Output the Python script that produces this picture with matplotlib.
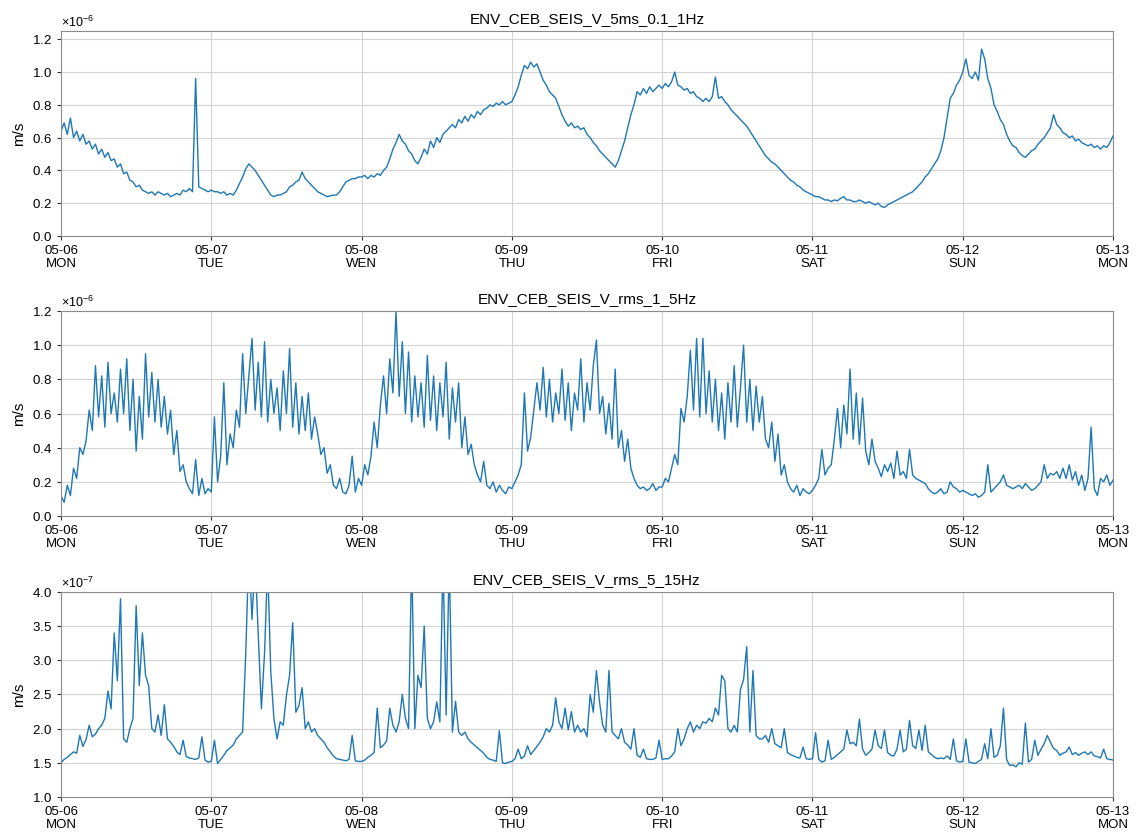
import numpy as np
import pandas as pd
import matplotlib
matplotlib.use("Agg")
import matplotlib.pyplot as plt
from matplotlib.ticker import ScalarFormatter

plt.rcParams['font.family'] = ['Liberation Sans', 'DejaVu Sans']
plt.rcParams['mathtext.fontset'] = 'custom'
plt.rcParams['mathtext.rm'] = 'Liberation Sans'
plt.rcParams['mathtext.it'] = 'Liberation Sans:italic'

# 30-minute samples, 2019-05-06 00:00 .. 2019-05-13 00:00
t = pd.date_range('2019-05-06', '2019-05-13', freq='30min')
day_ticks = pd.date_range('2019-05-06', '2019-05-13', freq='D')
day_names = ['MON', 'TUE', 'WEN', 'THU', 'FRI', 'SAT', 'SUN', 'MON']

# ENV_CEB_SEIS_V_5ms_0.1_1Hz  [1e-6 m/s]
vel_01_1hz = [
    # 05-06
    0.64, 0.69, 0.62, 0.72, 0.60, 0.64, 0.58, 0.62, 0.56, 0.58, 0.53, 0.56,
    0.50, 0.53, 0.48, 0.51, 0.46, 0.47, 0.42, 0.44, 0.38, 0.39, 0.34, 0.33,
    0.30, 0.31, 0.28, 0.27, 0.26, 0.27, 0.25, 0.27, 0.26, 0.25, 0.26, 0.24,
    0.25, 0.26, 0.25, 0.28, 0.27, 0.29, 0.27, 0.96, 0.30, 0.29, 0.28, 0.27,
    # 05-07
    0.28, 0.27, 0.27, 0.26, 0.27, 0.25, 0.26, 0.25, 0.28, 0.32, 0.36, 0.41,
    0.44, 0.42, 0.40, 0.37, 0.34, 0.31, 0.28, 0.25, 0.24, 0.25, 0.25, 0.26,
    0.27, 0.30, 0.31, 0.33, 0.34, 0.39, 0.35, 0.33, 0.31, 0.29, 0.27, 0.26,
    0.25, 0.24, 0.245, 0.25, 0.25, 0.27, 0.30, 0.33, 0.34, 0.35, 0.35, 0.36,
    # 05-08
    0.36, 0.37, 0.35, 0.37, 0.36, 0.38, 0.37, 0.40, 0.42, 0.47, 0.53, 0.57,
    0.62, 0.58, 0.56, 0.52, 0.50, 0.46, 0.44, 0.48, 0.53, 0.50, 0.58, 0.54,
    0.60, 0.57, 0.62, 0.64, 0.66, 0.68, 0.66, 0.71, 0.69, 0.73, 0.70, 0.74,
    0.72, 0.76, 0.74, 0.77, 0.78, 0.80, 0.79, 0.81, 0.80, 0.82, 0.80, 0.81,
    # 05-09
    0.82, 0.86, 0.91, 0.98, 1.04, 1.02, 1.06, 1.03, 1.05, 1.00, 0.95, 0.92,
    0.88, 0.86, 0.84, 0.79, 0.74, 0.70, 0.67, 0.69, 0.66, 0.67, 0.65, 0.66,
    0.62, 0.60, 0.57, 0.55, 0.52, 0.50, 0.48, 0.46, 0.44, 0.42, 0.46, 0.52,
    0.58, 0.66, 0.74, 0.80, 0.88, 0.86, 0.90, 0.87, 0.91, 0.88, 0.90, 0.92,
    # 05-10
    0.90, 0.93, 0.91, 0.94, 1.00, 0.92, 0.91, 0.89, 0.90, 0.87, 0.88, 0.85,
    0.84, 0.82, 0.84, 0.82, 0.85, 0.97, 0.84, 0.85, 0.82, 0.80, 0.77, 0.75,
    0.73, 0.71, 0.69, 0.67, 0.64, 0.61, 0.58, 0.55, 0.52, 0.49, 0.47, 0.45,
    0.44, 0.42, 0.40, 0.38, 0.36, 0.34, 0.33, 0.31, 0.30, 0.28, 0.27, 0.26,
    # 05-11
    0.25, 0.24, 0.24, 0.23, 0.22, 0.22, 0.21, 0.22, 0.215, 0.23, 0.24, 0.22,
    0.22, 0.21, 0.21, 0.22, 0.21, 0.20, 0.21, 0.20, 0.19, 0.20, 0.18, 0.175,
    0.19, 0.20, 0.21, 0.22, 0.23, 0.24, 0.25, 0.26, 0.27, 0.29, 0.31, 0.33,
    0.36, 0.38, 0.41, 0.44, 0.47, 0.52, 0.60, 0.72, 0.84, 0.87, 0.92, 0.95,
    # 05-12
    1.00, 1.08, 0.98, 0.96, 1.00, 0.95, 1.14, 1.08, 0.96, 0.90, 0.80, 0.76,
    0.71, 0.68, 0.62, 0.58, 0.55, 0.54, 0.51, 0.49, 0.48, 0.50, 0.52, 0.53,
    0.56, 0.58, 0.60, 0.63, 0.66, 0.74, 0.68, 0.66, 0.63, 0.62, 0.60, 0.61,
    0.58, 0.59, 0.57, 0.56, 0.55, 0.56, 0.54, 0.55, 0.53, 0.55, 0.54, 0.57,
    # 05-13
    0.61,
]

# ENV_CEB_SEIS_V_rms_1_5Hz  [1e-6 m/s]
vel_1_5hz = [
    # 05-06
    0.12, 0.08, 0.18, 0.12, 0.28, 0.22, 0.40, 0.36, 0.44, 0.62, 0.50, 0.88,
    0.58, 0.82, 0.52, 0.90, 0.60, 0.72, 0.55, 0.86, 0.60, 0.92, 0.50, 0.80,
    0.38, 0.70, 0.45, 0.95, 0.58, 0.84, 0.55, 0.80, 0.52, 0.70, 0.48, 0.62,
    0.36, 0.50, 0.26, 0.30, 0.20, 0.16, 0.13, 0.33, 0.12, 0.22, 0.13, 0.16,
    # 05-07
    0.14, 0.58, 0.20, 0.35, 0.78, 0.30, 0.48, 0.40, 0.62, 0.52, 0.95, 0.60,
    0.82, 1.04, 0.62, 0.90, 0.58, 1.02, 0.55, 0.80, 0.60, 0.75, 0.50, 0.85,
    0.60, 0.98, 0.52, 0.78, 0.48, 0.70, 0.50, 0.72, 0.45, 0.58, 0.48, 0.36,
    0.40, 0.25, 0.30, 0.18, 0.16, 0.22, 0.14, 0.13, 0.18, 0.35, 0.14, 0.22,
    # 05-08
    0.18, 0.30, 0.24, 0.35, 0.55, 0.40, 0.65, 0.82, 0.60, 0.92, 0.72, 1.20,
    0.70, 1.02, 0.60, 0.96, 0.55, 0.82, 0.58, 0.78, 0.52, 0.94, 0.56, 0.82,
    0.50, 0.78, 0.58, 0.90, 0.45, 0.75, 0.55, 0.78, 0.40, 0.58, 0.36, 0.42,
    0.30, 0.24, 0.20, 0.32, 0.18, 0.16, 0.20, 0.14, 0.18, 0.15, 0.13, 0.17,
    # 05-09
    0.16, 0.20, 0.24, 0.30, 0.72, 0.38, 0.46, 0.62, 0.78, 0.62, 0.87, 0.58,
    0.80, 0.55, 0.72, 0.60, 0.86, 0.56, 0.78, 0.50, 0.72, 0.62, 0.92, 0.55,
    0.78, 0.62, 0.88, 1.03, 0.60, 0.70, 0.48, 0.66, 0.45, 0.86, 0.40, 0.50,
    0.32, 0.45, 0.28, 0.22, 0.18, 0.16, 0.17, 0.15, 0.16, 0.19, 0.15, 0.17,
    # 05-10
    0.17, 0.22, 0.20, 0.28, 0.36, 0.30, 0.63, 0.55, 0.70, 0.97, 0.62, 1.04,
    0.58, 1.04, 0.60, 0.85, 0.55, 0.80, 0.50, 0.72, 0.45, 0.78, 0.55, 0.88,
    0.52, 0.75, 1.00, 0.55, 0.80, 0.50, 0.76, 0.55, 0.70, 0.45, 0.40, 0.55,
    0.32, 0.48, 0.24, 0.30, 0.20, 0.16, 0.14, 0.18, 0.12, 0.16, 0.14, 0.13,
    # 05-11
    0.15, 0.18, 0.22, 0.39, 0.24, 0.28, 0.30, 0.45, 0.63, 0.40, 0.65, 0.48,
    0.86, 0.45, 0.72, 0.42, 0.69, 0.38, 0.30, 0.45, 0.32, 0.28, 0.23, 0.30,
    0.26, 0.31, 0.22, 0.38, 0.24, 0.26, 0.22, 0.39, 0.24, 0.22, 0.21, 0.20,
    0.19, 0.16, 0.14, 0.13, 0.14, 0.16, 0.13, 0.14, 0.20, 0.17, 0.16, 0.14,
    # 05-12
    0.15, 0.14, 0.13, 0.12, 0.13, 0.11, 0.12, 0.14, 0.30, 0.14, 0.16, 0.18,
    0.20, 0.24, 0.18, 0.17, 0.16, 0.17, 0.18, 0.16, 0.19, 0.17, 0.15, 0.16,
    0.18, 0.20, 0.30, 0.22, 0.25, 0.24, 0.26, 0.22, 0.28, 0.22, 0.30, 0.21,
    0.26, 0.18, 0.24, 0.15, 0.22, 0.52, 0.16, 0.12, 0.22, 0.20, 0.24, 0.18,
    # 05-13
    0.21,
]

# ENV_CEB_SEIS_V_rms_5_15Hz  [1e-7 m/s]
vel_5_15hz = [
    # 05-06
    1.50, 1.55, 1.58, 1.62, 1.66, 1.64, 1.90, 1.74, 1.84, 2.05, 1.88, 1.92,
    2.00, 2.05, 2.15, 2.55, 2.29, 3.40, 2.70, 3.90, 1.85, 1.80, 2.00, 2.15,
    3.80, 2.63, 3.40, 2.78, 2.63, 2.00, 1.95, 2.20, 1.90, 2.35, 1.85, 1.80,
    1.74, 1.66, 1.62, 1.83, 1.59, 1.57, 1.56, 1.55, 1.57, 1.88, 1.54, 1.51,
    # 05-07
    1.52, 1.83, 1.49, 1.55, 1.61, 1.68, 1.72, 1.76, 1.85, 1.90, 1.95, 3.10,
    4.60, 3.60, 4.50, 3.37, 2.29, 3.10, 4.40, 2.83, 2.15, 1.85, 2.10, 2.05,
    2.49, 2.78, 3.55, 2.24, 2.34, 2.60, 2.00, 2.10, 1.95, 2.00, 1.90, 1.85,
    1.80, 1.72, 1.66, 1.60, 1.56, 1.55, 1.54, 1.53, 1.55, 1.90, 1.53, 1.52,
    # 05-08
    1.52, 1.54, 1.58, 1.61, 1.65, 2.30, 1.72, 1.76, 1.82, 2.30, 2.05, 1.95,
    2.10, 2.50, 2.15, 2.00, 4.50, 2.00, 2.78, 2.60, 3.50, 2.15, 2.00, 2.10,
    2.39, 2.10, 4.50, 2.20, 4.50, 1.95, 2.40, 1.95, 1.90, 1.95, 1.85, 1.80,
    1.76, 1.72, 1.68, 1.64, 1.58, 1.55, 1.54, 1.52, 1.97, 1.50, 1.49, 1.51,
    # 05-09
    1.52, 1.56, 1.70, 1.56, 1.60, 1.75, 1.62, 1.68, 1.74, 1.80, 1.88, 2.00,
    1.95, 2.05, 2.45, 2.10, 2.00, 2.30, 1.98, 2.25, 1.95, 2.05, 1.95, 2.00,
    1.88, 2.50, 2.24, 2.85, 2.39, 2.05, 1.95, 2.85, 1.95, 1.90, 1.85, 2.00,
    1.80, 1.76, 1.70, 2.00, 1.61, 1.58, 1.70, 1.56, 1.55, 1.55, 1.57, 1.83,
    # 05-10
    1.55, 1.56, 1.56, 1.60, 1.66, 2.00, 1.75, 1.85, 2.00, 2.10, 1.95, 2.05,
    2.00, 2.10, 2.08, 2.15, 2.10, 2.30, 2.20, 2.78, 2.70, 2.00, 1.95, 2.05,
    1.95, 2.57, 2.72, 3.20, 1.95, 2.85, 1.90, 1.85, 1.85, 1.90, 1.80, 2.00,
    1.78, 1.75, 1.72, 2.00, 1.65, 1.62, 1.60, 1.58, 1.57, 1.73, 1.56, 1.55,
    # 05-11
    1.56, 1.94, 1.55, 1.51, 1.53, 1.83, 1.55, 1.58, 1.62, 1.66, 1.70, 1.98,
    1.78, 1.80, 1.75, 2.14, 1.70, 1.61, 1.65, 1.70, 1.98, 1.75, 1.71, 1.98,
    1.65, 1.61, 1.60, 1.70, 1.98, 1.66, 1.70, 2.12, 1.75, 1.71, 1.98, 1.68,
    2.05, 1.66, 1.62, 1.58, 1.56, 1.57, 1.56, 1.60, 1.55, 1.85, 1.53, 1.51,
    # 05-12
    1.52, 1.85, 1.51, 1.50, 1.49, 1.52, 1.55, 1.78, 1.56, 2.00, 1.58, 1.61,
    1.75, 2.30, 1.55, 1.46, 1.47, 1.44, 1.50, 1.48, 2.08, 1.51, 1.55, 1.83,
    1.61, 1.70, 1.78, 1.90, 1.80, 1.71, 1.68, 1.61, 1.64, 1.66, 1.73, 1.62,
    1.65, 1.61, 1.64, 1.66, 1.62, 1.66, 1.60, 1.59, 1.57, 1.70, 1.56, 1.55,
    # 05-13
    1.54,
]

channels = [
    ("ENV_CEB_SEIS_V_5ms_0.1_1Hz", vel_01_1hz, 1e-6, (0, 1.25), np.arange(0, 1.21, 0.2)),
    ("ENV_CEB_SEIS_V_rms_1_5Hz", vel_1_5hz, 1e-6, (0, 1.2), np.arange(0, 1.21, 0.2)),
    ("ENV_CEB_SEIS_V_rms_5_15Hz", vel_5_15hz, 1e-7, (1.0, 4.0), np.arange(1.0, 4.01, 0.5)),
]

fig = plt.figure(figsize=(11.36, 8.32), dpi=100)
bottoms = [0.7163, 0.3798, 0.0421]
tick_labels = [f"{d:%m-%d}\n{n}" for d, n in zip(day_ticks, day_names)]

for (name, vals, scale, ylim, yticks), b in zip(channels, bottoms):
    ax = fig.add_axes([0.0537, b, 0.9261, 0.2464])
    ax.plot(t, np.asarray(vals) * scale, color='#1f77b4', lw=1.0)
    ax.set_xlim(t[0], t[-1])
    ax.set_ylim(ylim[0] * scale, ylim[1] * scale)
    ax.set_yticks(yticks * scale)
    fmt = ScalarFormatter(useMathText=True)
    fmt.set_powerlimits((0, 0))
    ax.yaxis.set_major_formatter(fmt)
    ax.yaxis.get_offset_text().set_fontsize(9)
    ax.set_xticks(day_ticks)
    ax.set_xticklabels(tick_labels, linespacing=1.15)
    ax.tick_params(labelsize=9.5, length=3, color='#333333')
    ax.tick_params(axis='x', pad=3.5)
    ax.grid(True, color='#d3d3d3', lw=0.8)
    for sp in ax.spines.values():
        sp.set_color('#8c8c8c')
    ax.set_ylabel('m/s', fontsize=11)
    ax.set_title(name, fontsize=11, pad=6)

fig.savefig('out.png', dpi=100)
